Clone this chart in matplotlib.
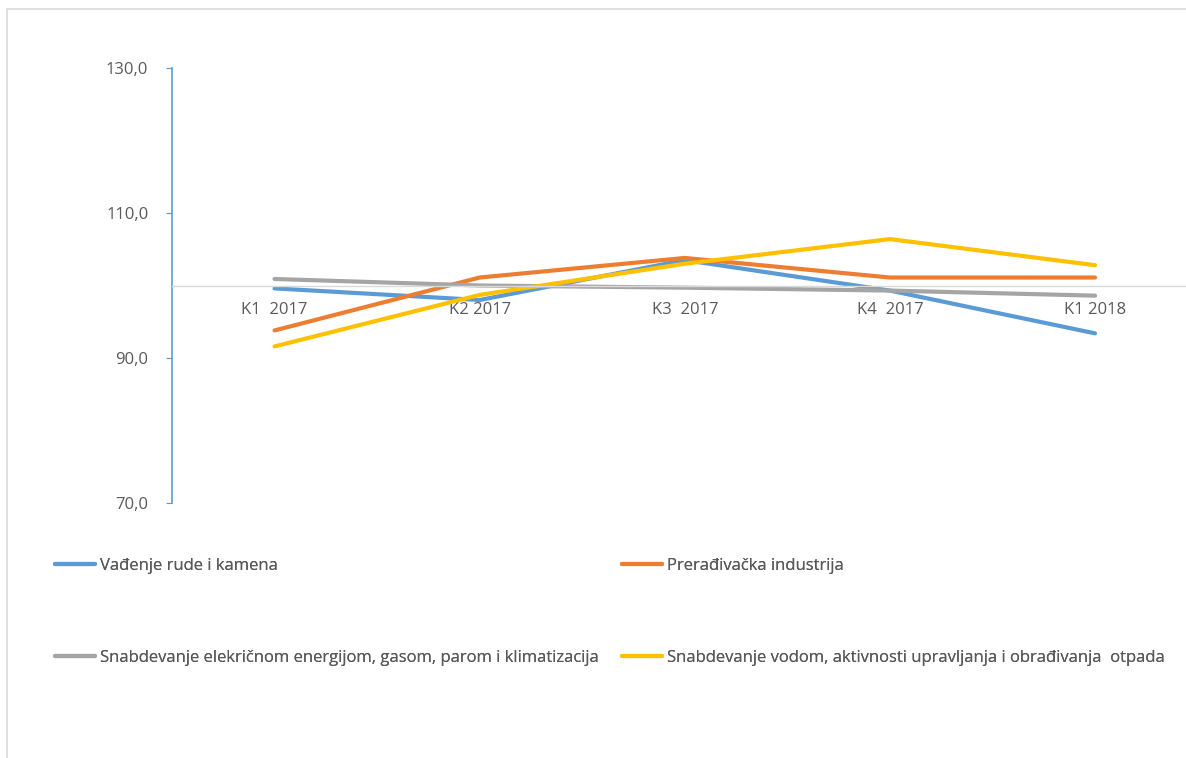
import matplotlib.pyplot as plt
from matplotlib.patches import Rectangle
from matplotlib.lines import Line2D

plt.rcParams['font.family'] = ['Open Sans', 'DejaVu Sans']

# Data
quarters = ['K1  2017', 'K2 2017', 'K3  2017', 'K4  2017', 'K1 2018']
vadjenje = [99.6, 98.0, 103.5, 99.3, 93.4]
preradjivacka = [93.8, 101.1, 103.8, 101.1, 101.1]
energija = [100.9, 100.0, 99.7, 99.3, 98.6]
voda = [91.6, 98.7, 103.0, 106.4, 102.8]

series_names = [
    'Vađenje rude i kamena',
    'Prerađivačka industrija',
    'Snabdevanje elekričnom energijom, gasom, parom i klimatizacija',
    'Snabdevanje vodom, aktivnosti upravljanja i obrađivanja  otpada',
]
series_values = [vadjenje, preradjivacka, energija, voda]
colors = ['#5B9BD5', '#ED7D31', '#A5A5A5', '#FFC000']

W, H = 1186, 758
fig = plt.figure(figsize=(W / 100, H / 100), dpi=100)

# light chart-area border (left/top visible)
fig.patches.append(Rectangle((7 / W, -0.05), 1.2, 1 - 9 / H + 0.05,
                             transform=fig.transFigure, fill=False,
                             edgecolor='#D9D9D9', linewidth=1.2))

ax = fig.add_axes([172 / W, 1 - 503 / H, (1197.6 - 172) / W, (503 - 68) / H])

x = list(range(len(quarters)))
handles = []
for vals, col, name in zip(series_values, colors, series_names):
    h, = ax.plot(x, vals, color=col, linewidth=3, solid_capstyle='round', label=name)
    handles.append(h)

ax.set_xlim(-0.5, len(quarters) - 0.5)
ax.set_ylim(70, 130)
ax.set_yticks([70, 90, 110, 130])
ax.set_yticklabels(['70,0', '90,0', '110,0', '130,0'])
ax.set_xticks(x)
ax.set_xticklabels(quarters)

for s in ['top', 'right']:
    ax.spines[s].set_visible(False)
ax.spines['left'].set_color('#5B9BD5')
ax.spines['left'].set_linewidth(1.2)
ax.spines['bottom'].set_position(('data', 100))
ax.spines['bottom'].set_color('#D9D9D9')
ax.spines['bottom'].set_linewidth(1)

ax.tick_params(axis='y', direction='out', length=4, color='#5B9BD5',
               labelcolor='#595959', labelsize=12, pad=13)
ax.tick_params(axis='x', length=0, labelcolor='#595959', labelsize=12, pad=12)

# legend entries placed like the reference (two columns, wide rows)
positions = [(55, 566), (622, 566), (55, 658), (622, 658)]
for h, (px, py) in zip(handles, positions):
    proxy = Line2D([], [], color=h.get_color(), linewidth=3, solid_capstyle='round')
    leg = fig.legend([proxy], [h.get_label()], loc='center left',
                     bbox_to_anchor=(px / W, 1 - py / H), frameon=False,
                     handlelength=2.4, handletextpad=0.3, borderpad=0,
                     borderaxespad=0, fontsize=12, labelcolor='#595959')
    fig.add_artist(leg)

fig.savefig('out.png', dpi=100)
